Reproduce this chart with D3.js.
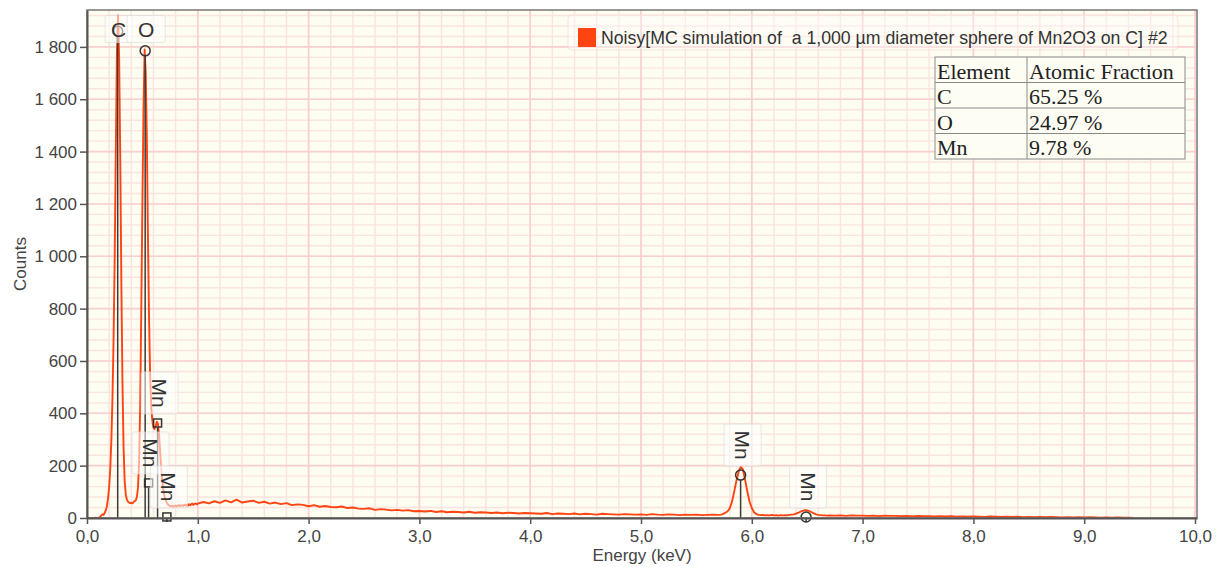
<!DOCTYPE html>
<html>
<head>
<meta charset="utf-8">
<script src="https://cdn.jsdelivr.net/npm/d3@7"></script>
<style>
  body { margin: 0; background: #fff; }
  svg text { font-family: "Liberation Sans", Arial, sans-serif; }
  svg text.cell { font-family: "Liberation Serif", "Times New Roman", serif; }
</style>
</head>
<body>
<svg id="chart" width="1221" height="567"></svg>
<script>
// spectrum, in blocks of equal channel width
const lowStart = 0.00, lowStep = 0.01;
const lowCounts = [
  0, 0, 0, 0, 0, 0, 0, 0, 1, 0,
  0, 2, 5, 10, 14, 12, 20, 30, 45, 75,
  120, 190, 300, 460, 690, 1000, 1400, 1780, 1920, 1760,
  1380, 900, 520, 270, 140, 90, 70, 62, 59, 57,
  58, 56, 61, 64, 68, 80, 115, 210, 430, 800,
  1200, 1560, 1790, 1700, 1450, 1080, 760, 540, 420, 370,
  345, 340, 352, 368, 360, 320, 255, 190, 140, 105,
  82, 68, 58, 52, 48, 46, 44, 47, 43, 45,
  48, 44, 46, 50, 45, 47, 49, 46, 51, 48,
  50, 47, 53, 49, 52, 55, 50, 54, 56, 52
];
const midStart = 1.00, midStep = 0.05;
const midCounts = [
  55, 61, 56, 64, 58, 67, 60, 70, 59, 63,
  66, 58, 62, 55, 59, 53, 57, 49, 52, 50,
  45, 49, 43, 46, 42, 41, 44, 38, 40, 36,
  35, 37, 31, 34, 32, 29, 31, 28, 30, 26,
  27, 25, 27, 23, 26, 22, 24, 23, 21, 24,
  20, 22, 21, 19, 21, 18, 20, 19, 17, 19,
  18, 17, 16, 19, 15, 17, 16, 15, 17, 14,
  16, 15, 13, 16, 15, 14, 13, 15, 14, 13,
  14, 12, 15, 13, 12, 14, 13, 11, 13, 12,
  13, 11, 12, 13
];
const mnKStart = 5.70, mnKStep = 0.02;
const mnKCounts = [
  12, 13, 15, 20, 25, 36, 60, 98, 140, 175,
  195, 186, 145, 100, 62, 38, 22, 15, 12, 11,
  12, 10, 11, 10, 12, 10, 11, 9, 11, 10,
  11, 10, 12, 13, 14, 17, 20, 24, 27, 30,
  29, 26, 22, 18, 14, 12, 11, 10, 10, 9,
  10
];
const highStart = 6.75, highStep = 0.05;
const highCounts = [
  9, 10, 8, 10, 9, 9, 8, 9, 7, 9,
  8, 8, 7, 8, 6, 8, 7, 7, 6, 7,
  6, 7, 5, 6, 5, 6, 5, 4, 6, 5,
  4, 5, 4, 5, 3, 4, 3, 4, 3, 4,
  3, 2, 3, 2, 3, 2, 3, 2, 1, 2,
  1, 2, 1, 1, 0
];

// KLM markers
const lineNames = ["C", "O", "Mn", "Mn", "Mn", "Mn", "Mn"];
const lineEnergies = [0.277, 0.525, 0.556, 0.637, 0.721, 5.899, 6.490];
const lineCounts = [1860, 1785, 134, 363, 4, 164, 4];
const lineFamily = ["K", "K", "L", "L", "L", "K", "K"];

// quantification table
const tableHeader = ["Element", "Atomic Fraction"];
const tableElements = ["C", "O", "Mn"];
const tableFractions = [65.25, 24.97, 9.78];

const legendLabel = "Noisy[MC simulation of  a 1,000 \u00b5m diameter sphere of Mn2O3 on C] #2";
const xTickValues = d3.range(0, 11, 1);
const yTickValues = d3.range(0, 1801, 200);

const specColor = "#ff4311";
const pLeft = 87, pRight = 1197, pTop = 10, pBottom = 518;

const svg = d3.select("#chart");
const loc = d3.formatLocale({decimal: ",", thousands: " ", grouping: [3], currency: ["", ""]});

const x = d3.scaleLinear().domain([0, 10.018]).range([pLeft, pRight]);
const y = d3.scaleLinear().domain([0, 1941]).range([pBottom, pTop]);

function block(start, step, counts) {
  return counts.map((c, i) => ({e: +(start + i * step).toFixed(3), c: c}));
}
const spectrum = [].concat(
  block(lowStart, lowStep, lowCounts),
  block(midStart, midStep, midCounts),
  block(mnKStart, mnKStep, mnKCounts),
  block(highStart, highStep, highCounts)
);

svg.append("rect").attr("width", 1221).attr("height", 567).attr("fill", "#fff");
svg.append("rect").attr("x", pLeft).attr("y", pTop)
  .attr("width", pRight - pLeft).attr("height", pBottom - pTop).attr("fill", "#fdfdf1");

svg.append("clipPath").attr("id", "plotClip").append("rect")
  .attr("x", pLeft).attr("y", pTop).attr("width", pRight - pLeft).attr("height", pBottom - pTop);

/* grid: minor then major */
const grid = svg.append("g").attr("clip-path", "url(#plotClip)");
grid.selectAll("line.xmin").data(d3.range(0, 10.01, 0.2)).join("line")
  .attr("x1", d => x(d)).attr("x2", d => x(d)).attr("y1", pTop).attr("y2", pBottom)
  .attr("stroke", "#fbe3e0").attr("stroke-width", 1.4);
grid.selectAll("line.ymin").data(d3.range(0, 1941, 40)).join("line")
  .attr("x1", pLeft).attr("x2", pRight).attr("y1", d => y(d)).attr("y2", d => y(d))
  .attr("stroke", "#fbe3e0").attr("stroke-width", 1.4);
grid.selectAll("line.xmaj").data(xTickValues).join("line")
  .attr("x1", d => x(d)).attr("x2", d => x(d)).attr("y1", pTop).attr("y2", pBottom)
  .attr("stroke", "#f9d0d0").attr("stroke-width", 1.6);
grid.selectAll("line.ymaj").data(yTickValues).join("line")
  .attr("x1", pLeft).attr("x2", pRight).attr("y1", d => y(d)).attr("y2", d => y(d))
  .attr("stroke", "#f9d0d0").attr("stroke-width", 1.6);

/* spectrum */
const line = d3.line().x(d => x(d.e)).y(d => y(d.c));
svg.append("path").datum(spectrum)
  .attr("clip-path", "url(#plotClip)")
  .attr("d", line).attr("fill", "none")
  .attr("stroke", specColor).attr("stroke-width", 1.9).attr("stroke-linejoin", "round");

/* line markers */
const marks = lineNames.map((n, i) => ({name: n, e: lineEnergies[i], c: lineCounts[i], fam: lineFamily[i]}));
const mg = svg.append("g");
mg.selectAll("line").data(marks).join("line")
  .attr("x1", d => x(d.e)).attr("x2", d => x(d.e))
  .attr("y1", d => y(d.c) + 5).attr("y2", pBottom)
  .attr("stroke", "#3a3a3a").attr("stroke-width", 1.5);
mg.selectAll("circle").data(marks.filter(d => d.fam === "K")).join("circle")
  .attr("cx", d => x(d.e)).attr("cy", d => y(d.c)).attr("r", 5)
  .attr("fill", "none").attr("stroke", "#333").attr("stroke-width", 1.5);
mg.selectAll("rect").data(marks.filter(d => d.fam === "L")).join("rect")
  .attr("x", d => x(d.e) - 4).attr("y", d => y(d.c) - 4).attr("width", 8).attr("height", 8)
  .attr("fill", "none").attr("stroke", "#333").attr("stroke-width", 1.5);

/* labels with translucent boxes */
const lg = svg.append("g");
marks.forEach(d => {
  const rot = d.name.length > 1;
  const cx = x(d.e) + (rot ? 2 : 1);
  const cy = Math.max(y(d.c) - 30, 29);
  const w = rot ? 37 : (d.name === "O" ? 38 : 27);
  const h = rot ? 42 : 27;
  lg.append("rect").attr("x", cx - w / 2).attr("y", cy - h / 2)
    .attr("width", w).attr("height", h).attr("rx", 2)
    .attr("fill", "rgba(255,255,255,0.55)").attr("stroke", "rgba(215,215,215,0.6)");
  lg.append("text")
    .attr("transform", "translate(" + cx + "," + cy + ")" + (rot ? " rotate(90)" : ""))
    .attr("text-anchor", "middle").attr("dy", "0.36em")
    .attr("font-size", 21).attr("fill", "#333").text(d.name);
});

/* plot frame and axes */
svg.append("rect").attr("x", pLeft).attr("y", pTop)
  .attr("width", pRight - pLeft).attr("height", pBottom - pTop)
  .attr("fill", "none").attr("stroke", "#777").attr("stroke-width", 1.5);

const xAxis = svg.append("g").attr("transform", "translate(0," + pBottom + ")")
  .call(d3.axisBottom(x).tickValues(xTickValues).tickFormat(loc.format(".1f"))
    .tickSize(6).tickPadding(6).tickSizeOuter(0));
const yAxis = svg.append("g").attr("transform", "translate(" + pLeft + ",0)")
  .call(d3.axisLeft(y).tickValues(yTickValues).tickFormat(loc.format(",d"))
    .tickSize(7).tickPadding(3).tickSizeOuter(0));
[xAxis, yAxis].forEach(a => {
  a.select(".domain").attr("stroke", "#555").attr("stroke-width", 2);
  a.selectAll(".tick line").attr("stroke", "#555").attr("stroke-width", 1.5);
  a.selectAll(".tick text").attr("font-size", 17).attr("fill", "#444")
    .attr("font-family", "Liberation Sans, Arial, sans-serif");
});

svg.append("text").attr("x", (pLeft + pRight) / 2).attr("y", 561)
  .attr("text-anchor", "middle").attr("font-size", 17).attr("fill", "#444").text("Energy (keV)");
svg.append("text").attr("transform", "translate(26," + (pTop + pBottom) / 2 + ") rotate(-90)")
  .attr("text-anchor", "middle").attr("font-size", 17).attr("fill", "#444").text("Counts");

/* legend */
const leg = svg.append("g");
leg.append("rect").attr("x", 568).attr("y", 15).attr("width", 610).attr("height", 35).attr("rx", 4)
  .attr("fill", "rgba(255,255,255,0.3)").attr("stroke", "rgba(245,215,215,0.7)");
leg.append("rect").attr("x", 578).attr("y", 28).attr("width", 18).attr("height", 19).attr("fill", specColor);
leg.append("text").attr("x", 601).attr("y", 44).attr("font-size", 17.7).attr("fill", "#333")
  .style("white-space", "pre").attr("xml:space", "preserve").text(legendLabel);

/* table */
const tx = 935, ty = 57, colW = [92, 158], rowH = 25.5;
const rows = [tableHeader].concat(tableElements.map((e, i) => [e, tableFractions[i].toFixed(2) + " %"]));
const tg = svg.append("g");
tg.append("rect").attr("x", tx).attr("y", ty).attr("width", colW[0] + colW[1]).attr("height", rowH * rows.length)
  .attr("fill", "#fdfdf4").attr("stroke", "#8a8a8a");
rows.forEach((r, i) => {
  if (i > 0) tg.append("line").attr("x1", tx).attr("x2", tx + colW[0] + colW[1])
    .attr("y1", ty + i * rowH).attr("y2", ty + i * rowH).attr("stroke", "#8a8a8a");
  r.forEach((v, j) => {
    tg.append("text").attr("class", "cell")
      .attr("x", tx + 2 + (j ? colW[0] : 0)).attr("y", ty + (i + 1) * rowH - 4)
      .attr("font-size", 22).attr("fill", "#222").text(v);
  });
});
tg.append("line").attr("x1", tx + colW[0]).attr("x2", tx + colW[0])
  .attr("y1", ty).attr("y2", ty + rowH * rows.length).attr("stroke", "#8a8a8a");
</script>
</body>
</html>
